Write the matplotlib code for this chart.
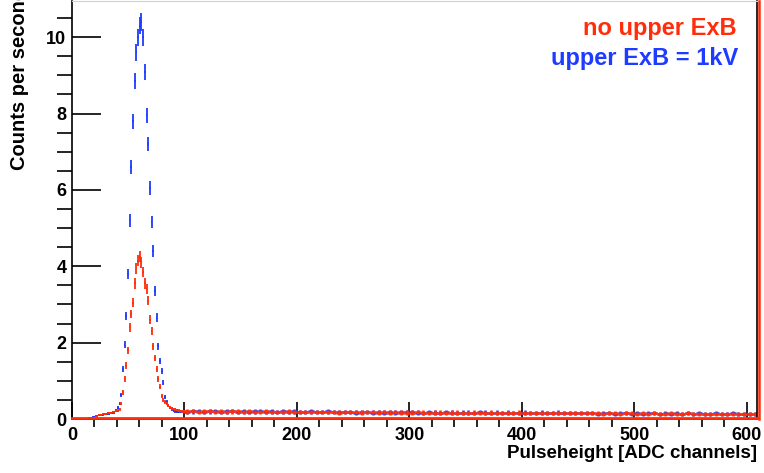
import numpy as np
import matplotlib
matplotlib.use("Agg")
import matplotlib.pyplot as plt
from matplotlib.ticker import MultipleLocator

plt.rcParams['font.family'] = ['Liberation Sans', 'DejaVu Sans']
plt.rcParams['font.weight'] = 'bold'

# peak region: 1.5-channel bins from 10 to 100
peak_edges = np.arange(10, 100.01, 1.5)
# tail region: 5-channel bins from 100 to 610
tail_edges = np.arange(100, 610.01, 5)

blue_peak = [0.0, 0.005, 0.01, 0.02, 0.03, 0.04, 0.06, 0.07, 0.09, 0.1,
             0.1, 0.11, 0.12, 0.12, 0.13, 0.14, 0.15, 0.16, 0.17, 0.22,
             0.3, 0.4, 0.62, 1.3, 1.95, 2.7, 3.8, 5.2, 6.6, 7.8,
             8.85, 9.6, 10.0, 10.3, 10.4, 10.0, 9.1, 7.95, 7.2, 6.05,
             5.15, 4.4, 3.35, 2.65, 1.9, 1.52, 1.25, 0.95, 0.58, 0.44,
             0.36, 0.3, 0.25, 0.21, 0.2, 0.19, 0.19, 0.18, 0.18, 0.17]
red_peak = [0.0, 0.0, 0.0, 0.0, 0.0, 0.0, 0.03, 0.06, 0.09, 0.1,
            0.11, 0.13, 0.14, 0.14, 0.15, 0.15, 0.16, 0.18, 0.19, 0.21,
            0.22, 0.25, 0.4, 0.7, 1.05, 1.4, 1.8, 2.4, 2.75, 3.05,
            3.55, 3.95, 4.15, 4.25, 4.1, 3.85, 3.55, 3.4, 3.1, 2.6,
            2.3, 1.9, 1.6, 1.3, 1.05, 0.85, 0.6, 0.5, 0.45, 0.4,
            0.35, 0.31, 0.28, 0.26, 0.25, 0.24, 0.22, 0.21, 0.2, 0.2]

red_tail = [0.2, 0.21, 0.19, 0.2, 0.21, 0.19, 0.2, 0.19, 0.2, 0.2,
            0.19, 0.2, 0.18, 0.19, 0.2, 0.19, 0.18, 0.19, 0.2, 0.19,
            0.18, 0.19, 0.18, 0.19, 0.18, 0.18, 0.19, 0.17, 0.18, 0.19,
            0.18, 0.17, 0.18, 0.18, 0.17, 0.18, 0.17, 0.18, 0.17, 0.17,
            0.17, 0.18, 0.17, 0.16, 0.17, 0.17, 0.16, 0.17, 0.17, 0.16,
            0.16, 0.17, 0.16, 0.16, 0.17, 0.16, 0.16, 0.15, 0.16, 0.17,
            0.16, 0.15, 0.16, 0.16, 0.15, 0.16, 0.15, 0.16, 0.15, 0.15,
            0.15, 0.16, 0.15, 0.15, 0.14, 0.15, 0.15, 0.14, 0.15, 0.15,
            0.14, 0.15, 0.14, 0.15, 0.14, 0.14, 0.15, 0.14, 0.14, 0.15,
            0.14, 0.13, 0.14, 0.14, 0.13, 0.14, 0.14, 0.13, 0.14, 0.14,
            0.13, 0.14]
blue_tail = [0.19, 0.2, 0.21, 0.19, 0.2, 0.21, 0.19, 0.2, 0.21, 0.19,
             0.2, 0.19, 0.2, 0.21, 0.18, 0.2, 0.19, 0.2, 0.18, 0.2,
             0.19, 0.18, 0.2, 0.18, 0.19, 0.2, 0.18, 0.19, 0.18, 0.18,
             0.17, 0.19, 0.18, 0.17, 0.19, 0.17, 0.18, 0.17, 0.19, 0.18,
             0.18, 0.17, 0.16, 0.18, 0.17, 0.16, 0.18, 0.17, 0.16, 0.17,
             0.17, 0.16, 0.18, 0.17, 0.16, 0.17, 0.15, 0.17, 0.16, 0.16,
             0.17, 0.16, 0.15, 0.17, 0.16, 0.15, 0.17, 0.15, 0.16, 0.16,
             0.16, 0.15, 0.16, 0.14, 0.16, 0.15, 0.14, 0.16, 0.15, 0.14,
             0.15, 0.14, 0.15, 0.16, 0.14, 0.15, 0.14, 0.15, 0.13, 0.15,
             0.14, 0.15, 0.13, 0.14, 0.15, 0.13, 0.14, 0.15, 0.14, 0.13,
             0.14, 0.13]

RED = '#ff2d0a'
BLUE = '#1e3cff'

fig = plt.figure(figsize=(7.64, 4.73), dpi=100)
ax = fig.add_axes([72/764, 1-419/473, (757-72)/764, 419/473 - 0.002])

def draw_hist(edges, vals, color, lw, k):
    edges = np.asarray(edges)
    vals = np.asarray(vals)
    centers = 0.5*(edges[1:] + edges[:-1])
    half = 0.5*(edges[1:] - edges[:-1])
    err = k*np.sqrt(vals)   # poisson-like errors from the counts
    ax.errorbar(centers, vals, xerr=half, yerr=err, fmt='none',
                ecolor=color, elinewidth=lw, capsize=0)

draw_hist(peak_edges, blue_peak, BLUE, 1.3, 0.07)
draw_hist(tail_edges, blue_tail, BLUE, 1.8, 0.13)
draw_hist(peak_edges, red_peak, RED, 1.3, 0.07)
draw_hist(tail_edges, red_tail, RED, 1.8, 0.13)

ax.axhline(0.02, color=RED, lw=2, clip_on=False, zorder=5)
ax.axvline(610.8, color=RED, lw=1.8, clip_on=False, zorder=5)

ax.set_xlim(0, 609)
ax.set_ylim(0, 10.95)
ax.xaxis.set_major_locator(MultipleLocator(100))
ax.xaxis.set_minor_locator(MultipleLocator(20))
ax.yaxis.set_major_locator(MultipleLocator(2))
ax.yaxis.set_minor_locator(MultipleLocator(0.5))
ax.tick_params(direction='in', top=False, right=False, labelsize=13, width=1.2)
ax.tick_params(axis='y', which='major', length=21, pad=4)
ax.tick_params(axis='y', which='minor', length=11, width=1.2)
ax.tick_params(axis='x', which='major', length=12, pad=6)
ax.tick_params(axis='x', which='minor', length=6, width=1.2)
for lab in ax.get_xticklabels() + ax.get_yticklabels():
    lab.set_fontweight('bold')
for s in ['left', 'bottom', 'right']:
    ax.spines[s].set_linewidth(1.2)
ax.spines['top'].set_color('#d0d0d0')

fig.text(757/764, 1-458/473, 'Pulseheight [ADC channels]', ha='right',
         va='baseline', fontsize=13.5, fontweight='bold')
fig.text(0.025, 1-170/473, 'Counts per second', rotation=90, ha='center',
         va='bottom', fontsize=14.5, fontweight='bold')
fig.text(737/764, 1-34.5/473, 'no upper ExB', ha='right', va='baseline',
         fontsize=17, fontweight='bold', color=RED)
fig.text(738/764, 1-65/473, 'upper ExB = 1kV', ha='right', va='baseline',
         fontsize=17, fontweight='bold', color=BLUE)

fig.savefig('out.png', dpi=100)
